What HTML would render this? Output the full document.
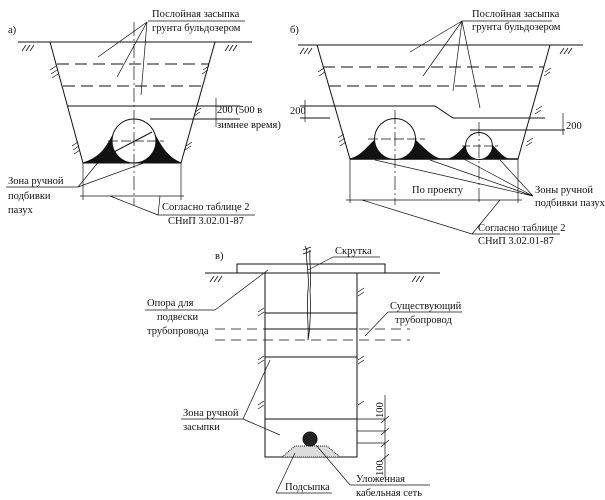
<!DOCTYPE html>
<html><head><meta charset="utf-8"><style>
html,body{margin:0;padding:0;background:#fff;}
svg{display:block}
text{font-family:"Liberation Serif","DejaVu Serif",serif;font-size:10.5px;fill:#111}
</style></head><body>
<svg width="605" height="500" viewBox="0 0 605 500" xmlns="http://www.w3.org/2000/svg" stroke="#111" fill="none" stroke-width="1">
<!-- ===== Panel a ===== -->
<text x="8" y="33" stroke="none">а)</text>
<line x1="18" y1="42" x2="252" y2="42"/>
<path d="M22,51 l4,-6 M26,51 l4,-6 M30,51 l4,-6 M225,51 l4,-6 M229,51 l4,-6 M233,51 l4,-6" stroke-width="0.8"/>
<polyline points="50,42 83,163 181,163 215,42"/>
<line x1="57" y1="64" x2="209" y2="64" stroke-dasharray="12,6"/>
<line x1="63" y1="86" x2="203" y2="86" stroke-dasharray="12,6"/>
<line x1="68" y1="106" x2="240" y2="106"/>
<line x1="150" y1="119" x2="240" y2="119"/>
<line x1="216" y1="98" x2="216" y2="127" stroke-width="0.7"/>
<path d="M50,70 l6,-4 M51,74 l6,-4 M52,78 l6,-4 M72,146 l6,-4 M73,150 l6,-4 M74,154 l6,-4 M203,70 l6,-4 M202,74 l6,-4 M195,112 l6,-4 M194,116 l6,-4 M186,146 l6,-4 M185,150 l6,-4" stroke-width="0.7"/>
<path d="M83,163 C100,158 106,148 113,135 L155,135 C162,148 168,158 181,163 Z" fill="#111"/>
<circle cx="134" cy="141" r="22" fill="#fff"/>
<line x1="134" y1="22" x2="134" y2="205" stroke-dasharray="14,3,2,3" stroke-width="0.7"/>
<line x1="108" y1="141" x2="164" y2="141" stroke-dasharray="10,3" stroke-width="0.7"/>
<line x1="112" y1="153" x2="152" y2="132"/>
<line x1="83" y1="163" x2="83" y2="200" stroke-width="0.7"/>
<line x1="181" y1="163" x2="181" y2="200" stroke-width="0.7"/>
<line x1="80" y1="196" x2="184" y2="196" stroke-width="0.7"/>
<text x="152" y="17" stroke="none">Послойная засыпка</text>
<text x="152" y="31" stroke="none">грунта бульдозером</text>
<line x1="148" y1="21" x2="245" y2="21" stroke-width="0.7"/>
<path d="M147,22 L98,57 M147,22 L117,77 M147,22 L141,95" stroke-width="0.7"/>
<text x="217" y="113" stroke="none">200 (500 в</text>
<text x="217" y="128" stroke="none">зимнее время)</text>
<text x="8" y="184" stroke="none">Зона ручной</text>
<text x="8" y="199" stroke="none">подбивки</text>
<text x="8" y="213" stroke="none">пазух</text>
<line x1="6" y1="187" x2="78" y2="187" stroke-width="0.7"/>
<path d="M78,187 L100,160 M78,187 L160,157" stroke-width="0.7"/>
<text x="162" y="210" stroke="none">Согласно таблице 2</text>
<text x="168" y="224" stroke="none">СНиП 3.02.01-87</text>
<line x1="158" y1="215" x2="255" y2="215" stroke-width="0.7"/>
<path d="M158,215 L110,196 M158,215 L160,196" stroke-width="0.7"/>

<!-- ===== Panel b ===== -->
<text x="290" y="33" stroke="none">б)</text>
<line x1="298" y1="45" x2="583" y2="45"/>
<path d="M300,54 l4,-6 M304,54 l4,-6 M308,54 l4,-6 M560,54 l4,-6 M564,54 l4,-6 M568,54 l4,-6" stroke-width="0.8"/>
<polyline points="317,45 350,159 518,159 550,45"/>
<line x1="323" y1="67" x2="544" y2="67" stroke-dasharray="12,6"/>
<line x1="329" y1="86" x2="539" y2="86" stroke-dasharray="12,6"/>
<polyline points="300,106 435,106 453,118 545,118"/>
<line x1="300" y1="118" x2="330" y2="118"/>
<line x1="470" y1="130" x2="565" y2="130"/>
<line x1="563" y1="113" x2="563" y2="135" stroke-width="0.7"/>
<line x1="305" y1="100" x2="305" y2="122" stroke-width="0.7"/>
<path d="M318,72 l6,-4 M319,76 l6,-4 M338,138 l6,-4 M339,142 l6,-4 M340,146 l6,-4 M545,72 l6,-4 M544,76 l6,-4 M536,110 l6,-4 M535,114 l6,-4 M527,142 l6,-4 M526,146 l6,-4" stroke-width="0.7"/>
<path d="M350,159 C362,156 368,146 375,140 L415,140 C422,146 430,156 440,159 Z" fill="#111"/>
<path d="M449,159 C457,156 461,150 466,145 L492,145 C497,150 501,156 508,159 Z" fill="#111"/>
<line x1="350" y1="159" x2="518" y2="159" stroke-width="1.5"/>
<circle cx="395" cy="139" r="20.5" fill="#fff"/>
<circle cx="479" cy="146" r="13.5" fill="#fff"/>
<line x1="395" y1="110" x2="395" y2="205" stroke-dasharray="14,3,2,3" stroke-width="0.7"/>
<line x1="479" y1="122" x2="479" y2="205" stroke-dasharray="14,3,2,3" stroke-width="0.7"/>
<line x1="368" y1="139" x2="425" y2="139" stroke-dasharray="10,3" stroke-width="0.7"/>
<line x1="462" y1="146" x2="498" y2="146" stroke-dasharray="8,3" stroke-width="0.7"/>
<line x1="350" y1="159" x2="350" y2="203" stroke-width="0.7"/>
<line x1="518" y1="159" x2="518" y2="203" stroke-width="0.7"/>
<line x1="346" y1="200" x2="522" y2="200" stroke-width="0.7"/>
<text x="472" y="17" stroke="none">Послойная засыпка</text>
<text x="472" y="30" stroke="none">грунта бульдозером</text>
<line x1="462" y1="21" x2="552" y2="21" stroke-width="0.7"/>
<path d="M462,21 L410,52 M462,21 L423,76 M462,21 L453,91 M462,21 L480,108" stroke-width="0.7"/>
<text x="290" y="114" stroke="none">200</text>
<text x="566" y="129" stroke="none">200</text>
<text x="412" y="193" stroke="none">По проекту</text>
<text x="535" y="193" stroke="none">Зоны ручной</text>
<text x="535" y="206" stroke="none">подбивки пазух</text>
<path d="M533,196 L375,160 M533,196 L430,160 M533,196 L462,158 M533,196 L500,160" stroke-width="0.7"/>
<text x="478" y="231" stroke="none">Согласно таблице 2</text>
<text x="478" y="244" stroke="none">СНиП 3.02.01-87</text>
<line x1="472" y1="234" x2="560" y2="234" stroke-width="0.7"/>
<path d="M472,234 L362,200 M472,234 L500,200" stroke-width="0.7"/>

<!-- ===== Panel c ===== -->
<text x="215" y="259" stroke="none">в)</text>
<line x1="205" y1="273" x2="440" y2="273"/>
<path d="M210,282 l4,-6 M214,282 l4,-6 M218,282 l4,-6 M412,282 l4,-6 M416,282 l4,-6 M420,282 l4,-6" stroke-width="0.8"/>
<rect x="237" y="264" width="148" height="9"/>
<rect x="265" y="273" width="92" height="184"/>
<line x1="265" y1="313" x2="357" y2="313"/>
<line x1="265" y1="329" x2="357" y2="329"/>
<line x1="265" y1="357" x2="357" y2="357"/>
<line x1="265" y1="419" x2="357" y2="419"/>
<line x1="215" y1="329" x2="410" y2="329" stroke-dasharray="10,6" stroke-width="0.7"/>
<line x1="215" y1="340" x2="410" y2="340" stroke-dasharray="10,6" stroke-width="0.7"/>
<path d="M258,312 l6,-4 M258,316 l6,-4 M258,360 l6,-4 M258,364 l6,-4 M258,405 l6,-4 M258,409 l6,-4 M358,292 l6,-4 M358,296 l6,-4 M358,360 l6,-4 M358,364 l6,-4 M358,405 l6,-4" stroke-width="0.7"/>
<path d="M307,248 C305,262 310,275 308,290 C306,310 309,325 308,340 C310,330 311,310 310,290 C312,275 309,262 310,250" stroke-width="0.8"/>
<path d="M303,250 l8,-3 M303,254 l8,-3 M305,246 l2,4" stroke-width="0.8"/>
<path d="M282,457 L295,446 L327,446 L340,457 Z" fill="#ddd" stroke-dasharray="1,1"/>
<circle cx="310" cy="439" r="7" fill="#222"/>
<line x1="357" y1="431" x2="385" y2="431" stroke-width="0.7"/>
<line x1="357" y1="443" x2="385" y2="443" stroke-width="0.7"/>
<line x1="357" y1="419" x2="385" y2="419" stroke-width="0.7"/>
<line x1="385" y1="395" x2="385" y2="478" stroke-width="0.7"/>
<path d="M381,423 l8,-7 M381,435 l8,-7 M381,447 l8,-7 M381,461 l8,-7" stroke-width="0.7"/>
<text transform="translate(383,418) rotate(-90)" stroke="none">100</text>
<text transform="translate(383,476) rotate(-90)" stroke="none">100</text>
<text x="335" y="254" stroke="none">Скрутка</text>
<line x1="333" y1="257" x2="380" y2="257" stroke-width="0.7"/>
<line x1="333" y1="257" x2="308" y2="270" stroke-width="0.7"/>
<text x="147" y="306" stroke="none">Опора для</text>
<text x="157" y="320" stroke="none">подвески</text>
<text x="147" y="334" stroke="none">трубопровода</text>
<line x1="145" y1="310" x2="215" y2="310" stroke-width="0.7"/>
<line x1="215" y1="310" x2="268" y2="270" stroke-width="0.7"/>
<text x="390" y="309" stroke="none">Существующий</text>
<text x="395" y="323" stroke="none">трубопровод</text>
<line x1="388" y1="312" x2="462" y2="312" stroke-width="0.7"/>
<line x1="388" y1="312" x2="365" y2="336" stroke-width="0.7"/>
<text x="183" y="416" stroke="none">Зона ручной</text>
<text x="183" y="430" stroke="none">засыпки</text>
<line x1="181" y1="419" x2="243" y2="419" stroke-width="0.7"/>
<path d="M243,419 L270,360 M243,419 L280,435" stroke-width="0.7"/>
<text x="285" y="490" stroke="none">Подсыпка</text>
<line x1="276" y1="493" x2="332" y2="493" stroke-width="0.7"/>
<line x1="276" y1="493" x2="295" y2="453" stroke-width="0.7"/>
<text x="356" y="482" stroke="none">Уложенная</text>
<text x="356" y="496" stroke="none">кабельная сеть</text>
<line x1="350" y1="485" x2="430" y2="485" stroke-width="0.7"/>
<line x1="350" y1="485" x2="316" y2="445" stroke-width="0.7"/>
</svg>
</body></html>
